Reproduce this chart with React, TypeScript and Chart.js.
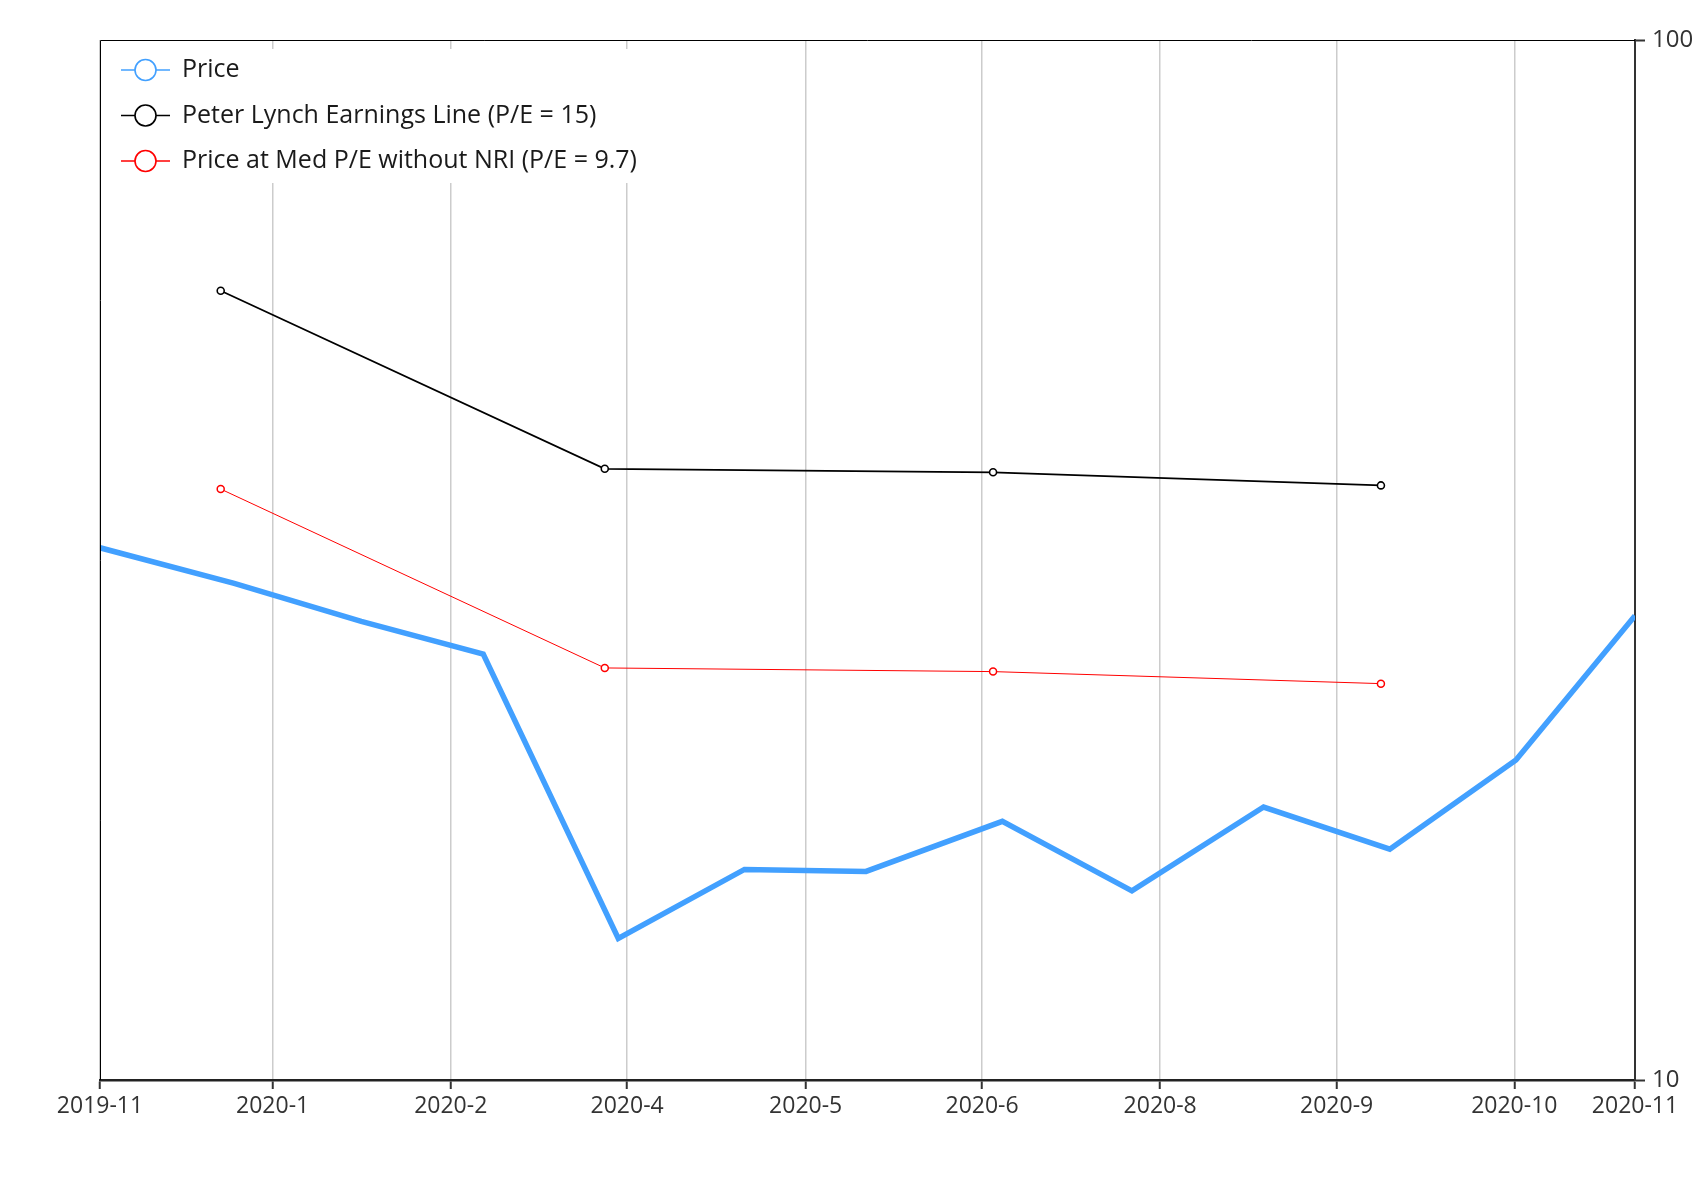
import React, { useEffect, useRef } from "react";
import { Chart, registerables } from "chart.js";

Chart.register(...registerables);

// x positions are day offsets from the start of the axis (2019-11 .. 2020-11)
const xDomain = [0, 363.7];
const xTickDays = [0, 40.9, 83.1, 124.9, 167.2, 209, 251.2, 293, 335.1, 363.7];
const xTickLabels = ["2019-11", "2020-1", "2020-2", "2020-4", "2020-5", "2020-6", "2020-8", "2020-9", "2020-10", "2020-11"];
const yTickValues = [10, 100];

const priceDays = [0, 31.8, 61.9, 90.8, 122.8, 152.7, 181.5, 213.8, 244.5, 275.7, 305.6, 335.5, 363.7];
const priceValues = [32.49, 30.03, 27.6, 25.68, 13.68, 15.94, 15.87, 17.73, 15.2, 18.3, 16.67, 20.31, 27.95];

const quarterDays = [28.6, 119.6, 211.6, 303.5];
const lynchValues = [57.4, 38.7, 38.4, 37.3];
const medPeValues = [37.0, 24.9, 24.7, 24.05];

const seriesNames = [
  "Price",
  "Peter Lynch Earnings Line (P/E = 15)",
  "Price at Med P/E without NRI (P/E = 9.7)",
];
const seriesColors = ["#42a0ff", "#000000", "#ff0000"];

const FONT = "'Open Sans', 'Noto Sans', sans-serif";

const framePlugin = {
  id: "frameAndLegend",
  afterDraw(chart: any) {
    const ctx = chart.ctx;
    const ca = chart.chartArea;
    ctx.save();
    // top and left frame lines
    ctx.strokeStyle = "#000";
    ctx.lineWidth = 1;
    ctx.beginPath();
    ctx.moveTo(ca.left + 0.5, ca.bottom);
    ctx.lineTo(ca.left + 0.5, ca.top + 0.5);
    ctx.lineTo(ca.right, ca.top + 0.5);
    ctx.stroke();

    // legend
    const boxLeft = ca.left + 1.5;
    const boxTop = ca.top + 9;
    ctx.fillStyle = "#ffffff";
    ctx.fillRect(boxLeft, boxTop, 550, 134);
    chart.data.datasets.forEach((ds: any, i: number) => {
      const y = ca.top + 30 + i * 45.5;
      const lx = ca.left + 21;
      ctx.strokeStyle = ds.borderColor;
      ctx.lineWidth = 1.6;
      ctx.beginPath();
      ctx.moveTo(lx, y);
      ctx.lineTo(lx + 49, y);
      ctx.stroke();
      ctx.fillStyle = "#fff";
      ctx.beginPath();
      ctx.arc(lx + 24.5, y, 10.5, 0, Math.PI * 2);
      ctx.fill();
      ctx.stroke();
      ctx.fillStyle = "#1a1a1a";
      ctx.font = `25px ${FONT}`;
      ctx.textBaseline = "middle";
      ctx.textAlign = "left";
      ctx.fillText(ds.label, lx + 61, y);
    });
    ctx.restore();
  },
};

export default function App() {
  const canvasRef = useRef<HTMLCanvasElement | null>(null);

  useEffect(() => {
    const canvas = canvasRef.current;
    if (!canvas) return;
    const chart = new Chart(canvas, {
      type: "line",
      data: {
        datasets: [
          {
            label: seriesNames[0],
            data: priceDays.map((d, i) => ({ x: d, y: priceValues[i] })),
            borderColor: seriesColors[0],
            backgroundColor: seriesColors[0],
            borderWidth: 5.5,
            pointRadius: 0,
            tension: 0,
            borderJoinStyle: "miter",
          },
          {
            label: seriesNames[1],
            data: quarterDays.map((d, i) => ({ x: d, y: lynchValues[i] })),
            borderColor: seriesColors[1],
            backgroundColor: "#ffffff",
            borderWidth: 1.8,
            pointRadius: 3.5,
            pointBorderWidth: 1.6,
            pointBackgroundColor: "#ffffff",
            pointBorderColor: seriesColors[1],
            tension: 0,
          },
          {
            label: seriesNames[2],
            data: quarterDays.map((d, i) => ({ x: d, y: medPeValues[i] })),
            borderColor: seriesColors[2],
            backgroundColor: "#ffffff",
            borderWidth: 1,
            pointRadius: 3.5,
            pointBorderWidth: 1.5,
            pointBackgroundColor: "#ffffff",
            pointBorderColor: seriesColors[2],
            tension: 0,
          },
        ],
      },
      options: {
        animation: false,
        responsive: false,
        devicePixelRatio: 1,
        layout: { padding: { left: 100, top: 40, right: 0, bottom: 0 } },
        plugins: {
          legend: { display: false },
          tooltip: { enabled: false },
        },
        scales: {
          x: {
            type: "linear",
            min: xDomain[0],
            max: xDomain[1],
            afterBuildTicks: (s: any) => {
              s.ticks = xTickDays.map((v) => ({ value: v }));
            },
            afterFit: (s: any) => {
              s.height = 120;
            },
            grid: {
              color: "#cccccc",
              lineWidth: 1.5,
              drawOnChartArea: true,
              drawTicks: true,
              tickLength: 9,
              tickColor: "#333333",
              tickWidth: 2,
            },
            border: { display: true, color: "#222222", width: 2.5 },
            ticks: {
              autoSkip: false,
              maxRotation: 0,
              color: "#333333",
              font: { family: FONT, size: 23 },
              padding: 4,
              callback: (_v: any, i: number) => xTickLabels[i],
            },
          },
          y: {
            type: "logarithmic",
            position: "right",
            min: 10,
            max: 100,
            afterBuildTicks: (s: any) => {
              s.ticks = yTickValues.map((v) => ({ value: v }));
            },
            afterFit: (s: any) => {
              s.width = 59;
            },
            grid: {
              drawOnChartArea: false,
              drawTicks: true,
              tickLength: 10,
              color: "#333333",
              tickColor: "#333333",
              tickWidth: 2,
            },
            border: { display: true, color: "#333333", width: 2 },
            ticks: {
              autoSkip: false,
              color: "#333333",
              font: { family: FONT, size: 24 },
              padding: 7,
              callback: (v: any) => String(v),
            },
          },
        },
      },
      plugins: [framePlugin],
    });
    return () => chart.destroy();
  }, []);

  return (
    <div style={{ position: "absolute", left: 0, top: 0, width: 1694, height: 1200, background: "#fff" }}>
      <canvas ref={canvasRef} width={1694} height={1200} style={{ display: "block", width: 1694, height: 1200 }} />
    </div>
  );
}
